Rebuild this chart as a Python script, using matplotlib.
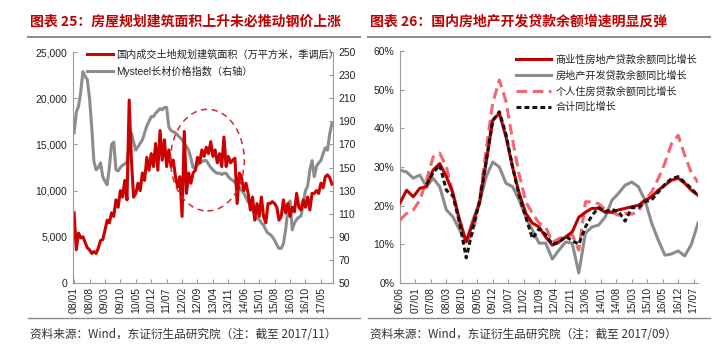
"""Two-panel chart: land planning area vs steel price, and real-estate loan growth."""

import matplotlib
matplotlib.use("Agg")
import matplotlib.pyplot as plt
from matplotlib.patches import Ellipse
from matplotlib.ticker import FuncFormatter
import numpy as np

plt.rcParams["font.family"] = ["Liberation Sans", "Noto Sans CJK SC"]
plt.rcParams["axes.unicode_minus"] = False

# ---------------- left panel data (monthly, 2008/01 - 2017/10) ----------------
left_ticks = ["08/01", "08/08", "09/03", "09/10", "10/05", "10/12", "11/07", "12/02",
              "12/09", "13/04", "13/11", "14/06", "15/01", "15/08", "16/03", "16/10", "17/05"]

land_area = [7600, 3600, 5400, 4900, 5000, 4400, 3800, 3600, 3200, 3400, 3200, 3800,
             4600, 4700, 5700, 6800, 6500, 7600, 7200, 9000, 8200, 10000, 9300, 11100,
             9000, 19800, 13300, 9300, 9700, 10800, 10000, 11900, 11100, 13600, 12200, 14000,
             12600, 15100, 12200, 16500, 13300, 15500, 12600, 14400, 12600, 13300, 11500, 10400,
             11500, 7200, 16400, 9700, 11900, 10800, 11900, 12200, 13600, 13000, 14400, 13700,
             14700, 14000, 15300, 13700, 14400, 13000, 14000, 12600, 15800, 12600, 13700, 13000,
             13300, 13500, 8600, 11900, 11400, 10000, 10800, 9700, 7900, 9300, 6800, 8600,
             7200, 9300, 7200, 6500, 8600, 8600, 8800, 8600, 8200, 6800, 7200, 9000,
             7600, 8600, 7200, 8200, 7700, 9700, 8200, 7900, 9000, 8200, 9300, 7900,
             9700, 9700, 10000, 9700, 10800, 10300, 11500, 11700, 11400, 10700]

steel_index = [180, 198, 203, 215, 233, 229, 226, 210, 185, 155, 148, 150,
               154, 142, 138, 135, 150, 170, 172, 148, 147, 150, 152, 153,
               155, 170, 180, 172, 165, 168, 171, 174, 180, 186, 190, 194,
               194, 197, 199, 201, 200, 202, 202, 185, 182, 181, 180, 178,
               176, 174, 171, 168, 165, 158, 150, 150, 152, 154, 155, 156,
               156, 153, 150, 148, 146, 145, 145, 144, 145, 145, 142, 140,
               139, 137, 135, 133, 130, 128, 124, 120, 119, 114, 108, 106,
               105, 102, 100, 96, 93, 92, 90, 87, 83, 80, 80, 84,
               96, 113, 121, 96, 102, 105, 107, 108, 119, 130, 134, 148,
               156, 142, 151, 154, 156, 162, 167, 165, 179, 188]

# ---------------- right panel data (quarterly, 2006/06 - 2017/09, %) ----------------
right_ticks = ["06/06", "07/01", "07/08", "08/03", "08/10", "09/05", "09/12", "10/07",
               "11/02", "11/09", "12/04", "12/11", "13/06", "14/01", "14/08", "15/03",
               "15/10", "16/05", "16/12", "17/07"]

commercial_loans = [20.7, 24.0, 22.3, 24.5, 24.9, 29.2, 30.9, 27.5, 23.2, 16.3, 10.7, 15.5,
                    20.7, 31.0, 42.1, 43.9, 37.8, 30.0, 23.2, 18.0, 15.5, 14.5, 11.9, 9.8,
                    10.6, 11.9, 13.2, 17.0, 18.3, 19.3, 19.3, 18.3, 18.3, 18.9, 19.3, 19.7,
                    20.1, 21.4, 22.3, 24.0, 25.3, 26.6, 27.1, 25.8, 24.0, 22.7]
developer_loans = [29.2, 28.7, 27.1, 27.9, 24.9, 27.1, 24.9, 18.9, 17.1, 13.7, 10.6, 16.3,
                   20.7, 27.4, 31.3, 30.0, 25.8, 24.9, 21.4, 17.1, 13.7, 10.3, 10.3, 6.2,
                   8.5, 10.6, 10.3, 2.6, 12.9, 14.5, 15.0, 17.1, 21.4, 23.2, 25.3, 26.1,
                   24.9, 21.4, 15.5, 11.1, 7.2, 7.5, 8.3, 7.0, 10.0, 15.5]
mortgage_loans = [16.3, 18.0, 18.9, 21.4, 26.6, 32.6, 33.6, 30.0, 23.2, 15.5, 10.3, 13.0,
                  21.4, 34.4, 46.5, 52.5, 47.0, 37.0, 28.0, 21.0, 18.0, 15.5, 14.5, 10.5,
                  11.5, 12.0, 12.5, 8.5, 21.0, 21.0, 20.5, 19.0, 18.3, 17.5, 18.0, 17.8,
                  18.5, 21.5, 23.5, 27.0, 31.0, 36.0, 38.2, 33.0, 28.5, 26.0]
total_loans = [np.nan, np.nan, np.nan, np.nan, 25.5, 28.5, 30.5, 24.0, 22.5, 15.5, 6.5, 14.0,
               21.0, 31.5, 42.0, 44.3, 38.5, 30.0, 22.5, 17.0, 11.5, 14.0, 12.5, 10.0,
               10.5, 12.0, 11.0, 10.0, 14.5, 17.5, 19.5, 18.5, 19.0, 18.5, 16.0, 19.5,
               19.5, 21.0, 21.5, 23.5, 25.5, 27.0, 27.5, 26.0, 24.5, 22.5]

RED = "#cc0000"
GRAY = "#8c8c8c"
DARK_RED = "#c00000"
PINK = "#f26670"
TEXT = "#222222"
SPINE = "#9a9a9a"

fig = plt.figure(figsize=(7.28, 3.61), dpi=100)


def fx(px):
    return px / 728


def fy(py):
    return 1 - py / 361


def style_axis(ax):
    for side in ["top", "right"]:
        ax.spines[side].set_visible(False)
    for side in ["left", "bottom"]:
        ax.spines[side].set_color(SPINE)
        ax.spines[side].set_linewidth(0.8)
    ax.tick_params(axis="both", colors=SPINE, labelcolor=TEXT, labelsize=7.5,
                   length=3, width=0.8, direction="in")
    ax.tick_params(axis="x", labelrotation=90, pad=3)
    ax.tick_params(axis="y", pad=4)


# ---------------- left panel ----------------
ax1 = fig.add_axes([fx(73), fy(283), fx(333 - 73), fy(52) - fy(283)])
ax1r = ax1.twinx()
ax1.set_zorder(ax1r.get_zorder() + 1)
ax1.patch.set_visible(False)

m_left = np.arange(len(land_area))
l_red, = ax1.plot(m_left, land_area, color=RED, lw=2.2, solid_joinstyle="round")
l_gray, = ax1r.plot(np.arange(len(steel_index)), steel_index, color=GRAY, lw=2.2,
                    solid_joinstyle="round")

ax1.set_xlim(-0.5, 117.5)
ax1.set_ylim(0, 25000)
ax1.set_yticks(np.arange(0, 25001, 5000))
ax1.yaxis.set_major_formatter(FuncFormatter(lambda v, _: f"{int(v):,}"))
ax1.set_xticks(np.arange(0, 7 * len(left_ticks), 7))
ax1.set_xticklabels(left_ticks)
ax1r.set_ylim(50, 250)
ax1r.set_yticks(np.arange(50, 251, 20))
style_axis(ax1)
for side in ["top", "left", "bottom"]:
    ax1r.spines[side].set_visible(False)
ax1r.spines["right"].set_color(SPINE)
ax1r.spines["right"].set_linewidth(0.8)
ax1r.tick_params(axis="y", colors=SPINE, labelcolor=TEXT, labelsize=7.5, length=3,
                 width=0.8, direction="in", pad=4)

ax1.add_patch(Ellipse((60.5, 13300), 33.5, 11000, fill=False, ls=(0, (4, 3)),
                      ec="#d42a2a", lw=1.1, zorder=5))

ax1.legend([l_red, l_gray], ["国内成交土地规划建筑面积（万平方米，季调后）",
                             "Mysteel长材价格指数（右轴）"],
           loc="upper left", bbox_to_anchor=(0.055, 1.01), frameon=False,
           fontsize=7.3, handlelength=2.5, handletextpad=0.3, labelspacing=0.55,
           borderpad=0, borderaxespad=0, labelcolor=TEXT)

# ---------------- right panel ----------------
ax2 = fig.add_axes([fx(400), fy(283), fx(698 - 400), fy(51) - fy(283)])
m_right = np.arange(len(commercial_loans)) * 3

h1, = ax2.plot(m_right, commercial_loans, color=DARK_RED, lw=2.2, solid_joinstyle="round", zorder=4)
h2, = ax2.plot(m_right, developer_loans, color=GRAY, lw=2.2, solid_joinstyle="round", zorder=2)
h3, = ax2.plot(m_right, mortgage_loans, color=PINK, lw=2.2, ls=(0, (3.5, 1.8)), zorder=3)
h4, = ax2.plot(m_right, total_loans, color="#151515", lw=2.2, ls=(0, (1.6, 1.0)), zorder=5)

ax2.set_xlim(0, 135)
ax2.set_ylim(0, 60)
ax2.set_yticks(np.arange(0, 61, 10))
ax2.yaxis.set_major_formatter(FuncFormatter(lambda v, _: f"{int(v)}%"))
ax2.set_xticks(np.arange(0, 7 * len(right_ticks), 7))
ax2.set_xticklabels(right_ticks)
style_axis(ax2)

ax2.legend([h1, h2, h3, h4], ["商业性房地产贷款余额同比增长", "房地产开发贷款余额同比增长",
                              "个人住房贷款余额同比增长", "合计同比增长"],
           loc="upper left", bbox_to_anchor=(0.39, 0.985), frameon=False,
           fontsize=7.3, handlelength=3.4, handletextpad=0.5, labelspacing=0.55,
           borderpad=0, borderaxespad=0, labelcolor=TEXT)

# ---------------- titles, rules, sources ----------------
title_kw = dict(fontsize=10, fontweight="bold", color="#c00000", va="center",
                family=["Noto Sans CJK SC"])
fig.text(fx(30), fy(22), "图表 25：房屋规划建筑面积上升未必推动钢价上涨", **title_kw)
fig.text(fx(370), fy(22), "图表 26：国内房地产开发贷款余额增速明显反弹", **title_kw)

for x0, x1 in [(28, 360), (368, 710)]:
    fig.add_artist(plt.Line2D([fx(x0), fx(x1)], [fy(37), fy(37)], color="#8a8a8a", lw=1.4))
    fig.add_artist(plt.Line2D([fx(x0), fx(x1)], [fy(318), fy(318)], color="#8a8a8a", lw=1.0))

src_kw = dict(fontsize=8.4, color="#333333", va="center", family=["Noto Sans CJK SC"])
fig.text(fx(30), fy(334), "资料来源：Wind，东证衍生品研究院（注：截至 2017/11）", **src_kw)
fig.text(fx(370), fy(334), "资料来源：Wind，东证衍生品研究院（注：截至 2017/09）", **src_kw)

fig.savefig("out.png", dpi=100)
